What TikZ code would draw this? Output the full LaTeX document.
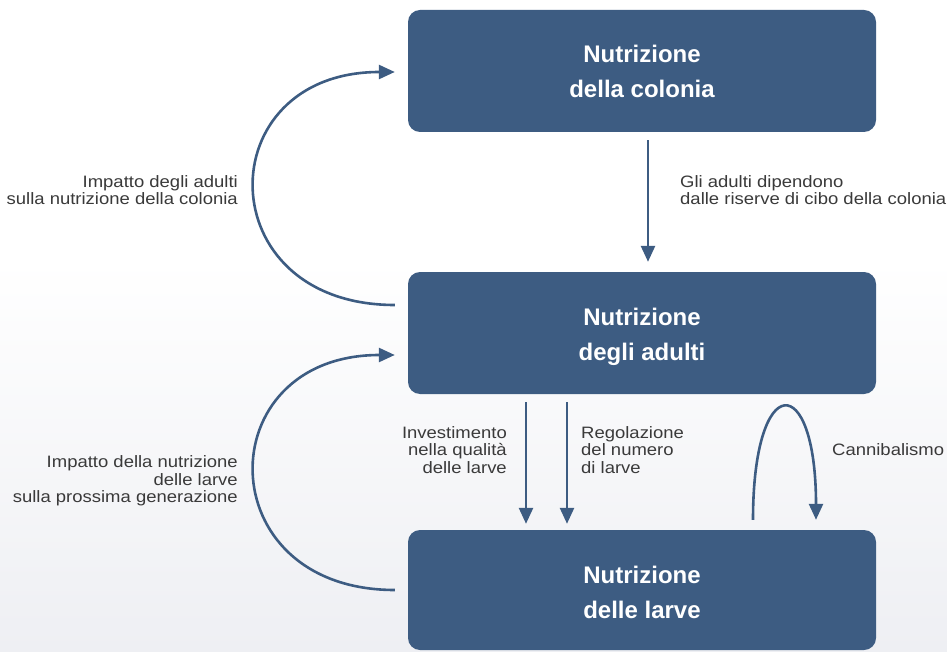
\documentclass[tikz,border=0pt]{standalone}
\usepackage{fontspec}
\setmainfont{Liberation Sans}
\newfontfamily\lblfont{Liberation Sans}[FakeStretch=1.12]
\usetikzlibrary{arrows.meta}
\definecolor{boxblue}{HTML}{3D5C82}
\definecolor{lblgray}{HTML}{3A3A3A}
\definecolor{bgbottom}{HTML}{EEEFF3}
\tikzset{
  boxnode/.style={fill=boxblue, rounded corners=12pt, minimum width=468pt, minimum height=122pt,
    inner sep=0pt, text=white, align=center, font=\fontsize{24}{35}\selectfont\bfseries},
  lbl/.style={text=lblgray, inner sep=0pt, font=\lblfont\fontsize{16.5}{17.5}\selectfont},
  conn/.style={draw=boxblue, line width=2.6pt, -{Triangle[length=16pt,width=14pt]}}
}
\begin{document}
\begin{tikzpicture}[x=1pt,y=-1pt]
\useasboundingbox (0,0) rectangle (947,652);
\fill[white] (0,0) rectangle (947,260);
\shade[top color=white, bottom color=bgbottom] (0,259) rectangle (947,652);

\node[boxnode] (top) at (642,71) {Nutrizione\\della colonia};
\node[boxnode] (mid) at (642,333) {\rule{0pt}{25pt}Nutrizione\\degli adulti};
\node[boxnode, minimum height=120pt] (bot) at (642,590) {\rule{0pt}{23pt}Nutrizione\\delle larve};

% top -> mid
\draw[conn] ([xshift=6pt,yshift=-8pt]top.south) -- ([xshift=6pt,yshift=10pt]mid.north);
\node[lbl, anchor=west, align=left] (l1) at (680,190) {Gli adulti dipendono\\dalle riserve di cibo della colonia};

% mid -> top (arc)
\draw[conn] ([xshift=-13pt,yshift=28pt]mid.west) .. controls +(-187,0) and +(-187,0) .. ([xshift=-13pt,yshift=-1pt]top.west);
\node[lbl, anchor=east, align=right] (l2) at (238,190) {Impatto degli adulti\\sulla nutrizione della colonia};

% bot -> mid (arc)
\draw[conn] ([xshift=-13pt]bot.west) .. controls +(-187,0) and +(-187,0) .. ([xshift=-13pt,yshift=-22pt]mid.west);
\node[lbl, anchor=east, align=right] (l3) at (238,481) {Impatto della nutrizione\\delle larve\\sulla prossima generazione};

% mid -> bot
\draw[conn] ([xshift=-116pt,yshift=-8pt]mid.south) -- ([xshift=-116pt,yshift=6pt]bot.north);
\draw[conn] ([xshift=-75pt,yshift=-8pt]mid.south) -- ([xshift=-75pt,yshift=6pt]bot.north);
\node[lbl, anchor=east, align=right] (l4) at (507,450) {Investimento\\nella qualità\\delle larve};
\node[lbl, anchor=west, align=left] (l5) at (581,450) {Regolazione\\del numero\\di larve};

% cannibalism loop
\draw[conn] ([xshift=111pt,yshift=10pt]bot.north) .. controls +(0,-150) and +(0,-150) .. ([xshift=174pt,yshift=10pt]bot.north);
\node[lbl, anchor=west] (l6) at (832,450) {Cannibalismo};
\end{tikzpicture}
\end{document}
